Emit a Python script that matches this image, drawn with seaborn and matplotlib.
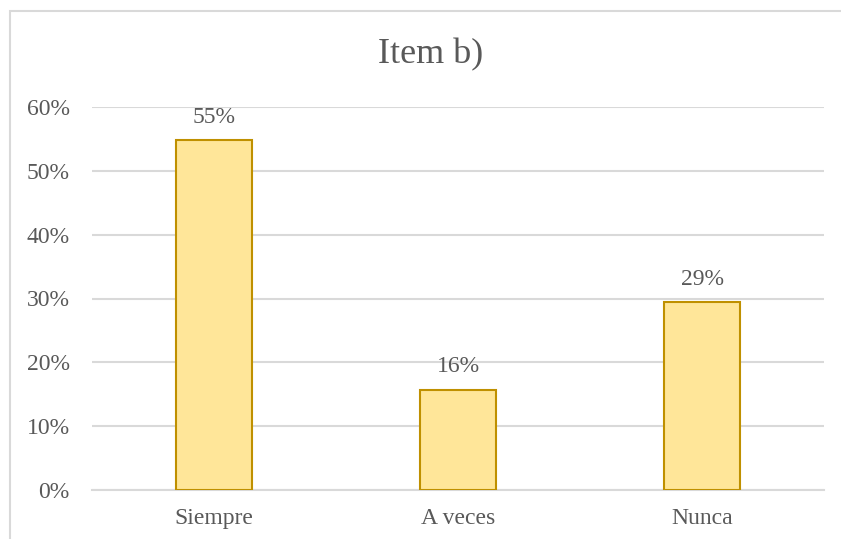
import matplotlib
matplotlib.use("Agg")
import matplotlib.pyplot as plt
from matplotlib.patches import Rectangle
from matplotlib.ticker import PercentFormatter
import seaborn as sns
import pandas as pd

# Survey answers for item b)
categories = ["Siempre", "A veces", "Nunca"]
shares = [0.548, 0.157, 0.294]
y_ticks = [0.0, 0.1, 0.2, 0.3, 0.4, 0.5, 0.6]

df = pd.DataFrame({"respuesta": categories, "porcentaje": shares})

sns.set_theme(style="white")
plt.rcParams["font.family"] = ["Liberation Serif", "DejaVu Serif"]

text_grey = "#595959"
grid_grey = "#D9D9D9"
label_size = 17

fig = plt.figure(figsize=(8.41, 5.39), dpi=100)
ax = fig.add_axes([92 / 841, 1 - 490 / 539, (824 - 92) / 841, (490 - 107) / 539])

sns.barplot(data=df, x="respuesta", y="porcentaje", ax=ax, width=0.31,
            color="#FFE699", edgecolor="#BF9000", linewidth=1.5,
            saturation=1, zorder=3)

ax.set_ylim(0, 0.6)
ax.set_yticks(y_ticks)
ax.yaxis.set_major_formatter(PercentFormatter(1.0, decimals=0))
ax.set_xlabel("")
ax.set_ylabel("")
ax.grid(axis="y", color=grid_grey, linewidth=1.5, zorder=0)
ax.set_axisbelow(True)
for side in ["left", "right", "top"]:
    ax.spines[side].set_visible(False)
ax.spines["bottom"].set_color(grid_grey)
ax.spines["bottom"].set_linewidth(1.5)
ax.tick_params(axis="y", length=0, pad=16, labelsize=label_size, labelcolor=text_grey)
ax.tick_params(axis="x", length=0, pad=13, labelsize=label_size, labelcolor=text_grey)

for patch, value in zip(ax.patches, shares):
    ax.annotate(f"{value * 100:.0f}%",
                (patch.get_x() + patch.get_width() / 2, patch.get_height()),
                xytext=(0, 9), textcoords="offset points",
                ha="center", va="bottom", fontsize=label_size, color=text_grey)

fig.text(431 / 841, 1 - 55 / 539, "Item b)", ha="center", va="center",
         fontsize=26, color=text_grey)

# Chart area frame
fig.patches.append(Rectangle((10 / 841, -0.05), 1.1, 1 - 11 / 539 + 0.05,
                             transform=fig.transFigure, fill=False,
                             edgecolor=grid_grey, linewidth=1.5))

fig.savefig("out.png", dpi=100)
